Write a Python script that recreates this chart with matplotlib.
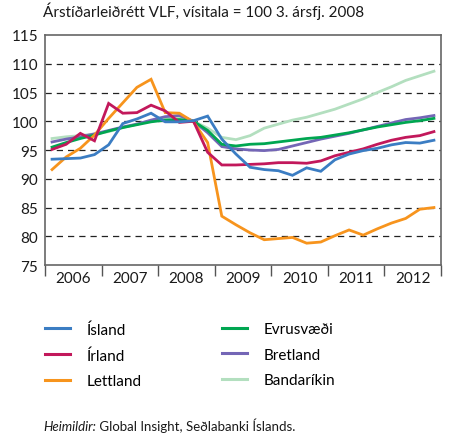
import matplotlib

matplotlib.use("Agg")
import matplotlib.pyplot as plt
import numpy as np

plt.rcParams["font.family"] = ["Lato", "DejaVu Sans"]

YEARS = [2006, 2007, 2008, 2009, 2010, 2011, 2012]
TITLE = "Árstíðarleiðrétt VLF, vísitala = 100 3. ársfj. 2008"

# quarterly index values, 2006Q1 .. 2012Q4
island = [93.4, 93.5, 93.6, 94.2, 95.9, 99.6, 100.4, 101.4, 99.9, 99.9, 100.1, 100.9,
          96.9, 94.3, 92.0, 91.6, 91.4, 90.6, 91.9, 91.3, 93.3, 94.3, 94.9, 95.3,
          95.9, 96.3, 96.2, 96.7]
irland = [95.1, 96.0, 97.9, 96.6, 103.1, 101.4, 101.5, 102.8, 101.8, 99.8, 100.0, 94.6,
          92.4, 92.4, 92.5, 92.6, 92.8, 92.8, 92.7, 93.1, 94.0, 94.6, 95.2, 96.0,
          96.7, 97.2, 97.5, 98.2]
lettland = [91.6, 93.8, 95.3, 97.6, 100.5, 103.2, 105.9, 107.3, 101.5, 101.4, 99.9, 96.3,
            83.5, 82.0, 80.6, 79.4, 79.6, 79.8, 78.8, 79.0, 80.1, 81.1, 80.2, 81.3,
            82.3, 83.1, 84.7, 85.0]
evrusvaedi = [95.5, 96.3, 97.0, 97.6, 98.3, 98.9, 99.4, 99.9, 100.2, 100.3, 100.0, 98.4,
              96.0, 95.7, 96.0, 96.1, 96.4, 96.7, 97.0, 97.2, 97.6, 98.0, 98.5, 99.0,
              99.4, 99.8, 100.1, 100.5]
bretland = [96.4, 96.9, 97.3, 97.8, 98.4, 99.0, 99.5, 100.2, 100.8, 101.0, 100.0, 98.0,
            95.6, 95.2, 95.0, 94.9, 95.1, 95.7, 96.3, 96.9, 97.4, 97.9, 98.5, 99.1,
            99.7, 100.3, 100.6, 101.0]
bandarikin = [97.0, 97.3, 97.5, 97.8, 98.2, 98.9, 99.5, 100.1, 100.4, 100.7, 100.0, 98.8,
              97.2, 96.8, 97.5, 98.8, 99.5, 100.2, 100.7, 101.4, 102.1, 103.0, 103.9, 105.0,
              106.0, 107.1, 107.9, 108.7]

SERIES = [
    ("Ísland", island, "#3b7dc3"),
    ("Írland", irland, "#c2185b"),
    ("Lettland", lettland, "#f7941d"),
    ("Evrusvæði", evrusvaedi, "#00a651"),
    ("Bretland", bretland, "#7466b6"),
    ("Bandaríkin", bandarikin, "#b3dfbf"),
]
# draw order (back to front)
ORDER = ["Bandaríkin", "Bretland", "Evrusvæði", "Lettland", "Írland", "Ísland"]

x = YEARS[0] + (np.arange(len(island)) + 0.5) / 4

fig = plt.figure(figsize=(4.49, 4.39), dpi=100)
ax = fig.add_axes([0.1002, 0.394, 0.8820, 0.524])

for yv in range(80, 115, 5):
    ax.axhline(yv, color="#222222", lw=0.9, ls=(0, (5, 4)), zorder=1)

lines = {name: (vals, col) for name, vals, col in SERIES}
for z, name in enumerate(ORDER):
    vals, col = lines[name]
    ax.plot(x, vals, color=col, lw=2.0, zorder=2 + z, solid_joinstyle="miter")

ax.set_xlim(YEARS[0], YEARS[-1] + 1)
ax.set_ylim(75, 115)
ax.set_yticks(range(75, 116, 5))
ax.tick_params(axis="y", length=0, pad=5, labelsize=11, colors="#1a1a1a")

# year separators as ticks, labels centred between them
ax.set_xticks(range(YEARS[0], YEARS[-1] + 2))
ax.set_xticklabels([])
ax.set_xticks([yr + 0.5 for yr in YEARS], minor=True)
ax.set_xticklabels([str(yr) for yr in YEARS], minor=True)
ax.tick_params(axis="x", which="major", length=8, width=1.0, color="#555555")
ax.tick_params(axis="x", which="minor", length=0, pad=4, labelsize=11,
               colors="#1a1a1a")

for s in ax.spines.values():
    s.set_color("#666666")
    s.set_linewidth(1.2)

fig.text(0.096, 0.955, TITLE, fontsize=11, color="#1a1a1a", va="bottom")

# legend: two columns drawn as separate legends so columns sit where they should
handles = [plt.Line2D([], [], color=col, lw=2.2) for _, _, col in SERIES]
names = [n for n, _, _ in SERIES]
for i, xa in enumerate([0.100, 0.494]):
    fig.legend(handles[3 * i:3 * i + 3], names[3 * i:3 * i + 3],
               loc="upper left", bbox_to_anchor=(xa, 0.264),
               frameon=False, fontsize=11, handlelength=1.65,
               handletextpad=1.1, labelspacing=0.76, borderpad=0,
               borderaxespad=0)

src = fig.text(0.096, 0.018, "Heimildir:", fontsize=9.5, style="italic",
               color="#1a1a1a", va="baseline")
rest = fig.text(0, 0, " Global Insight, Seðlabanki Íslands.", fontsize=9.5,
                color="#1a1a1a", va="baseline", transform=None)
fig.canvas.draw()
bb = src.get_window_extent()
rest.set_position((bb.x1, fig.transFigure.transform((0, 0.018))[1]))

fig.savefig("out.png", dpi=100)
